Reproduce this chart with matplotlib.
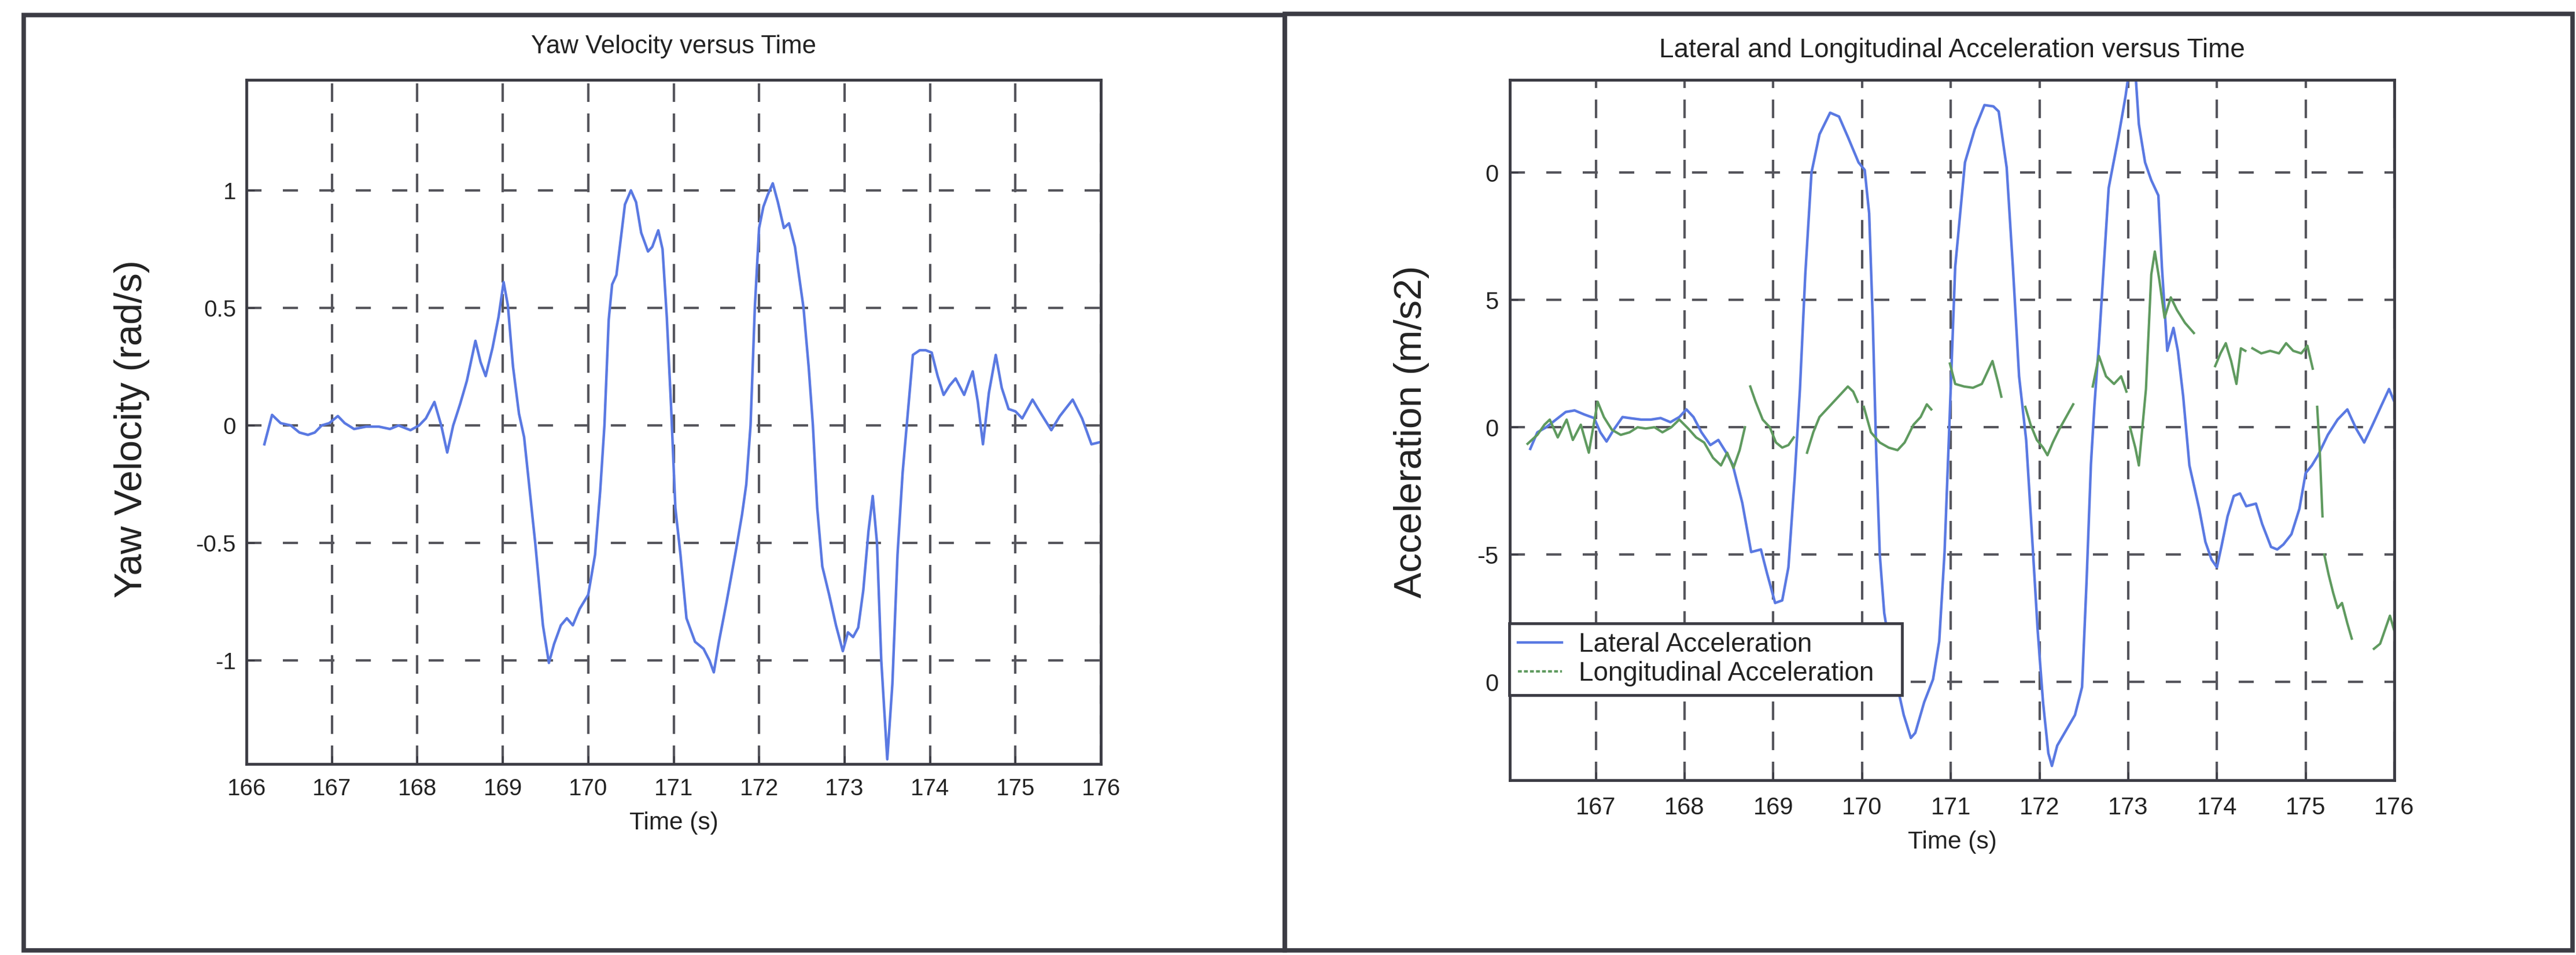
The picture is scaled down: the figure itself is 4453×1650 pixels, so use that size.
import numpy as np
import matplotlib
matplotlib.use("Agg")
import matplotlib.pyplot as plt
from matplotlib.lines import Line2D
from matplotlib.patches import Rectangle

plt.rcParams['font.family'] = ['Liberation Sans', 'DejaVu Sans']

# ---------------- data ----------------
yaw_t = [166.21, 166.30, 166.40, 166.52, 166.62, 166.72, 166.80, 166.88, 166.97, 167.07,
         167.15, 167.26, 167.40, 167.55, 167.68, 167.78, 167.92, 168.02, 168.10, 168.20,
         168.28, 168.35, 168.42, 168.50, 168.58, 168.68, 168.74, 168.80, 168.88, 168.95,
         169.01, 169.06, 169.12, 169.19, 169.25, 169.38, 169.47, 169.54, 169.60, 169.68,
         169.75, 169.82, 169.90, 170.00, 170.08, 170.14, 170.19, 170.24, 170.28, 170.33,
         170.38, 170.43, 170.50, 170.56, 170.62, 170.70, 170.75, 170.82, 170.87, 170.92,
         170.97, 171.02, 171.08, 171.15, 171.25, 171.35, 171.42, 171.47, 171.53, 171.62,
         171.72, 171.80, 171.85, 171.90, 171.95, 172.00, 172.05, 172.10, 172.16, 172.22,
         172.29, 172.35, 172.42, 172.52, 172.58, 172.63, 172.68, 172.74, 172.82, 172.90,
         172.98, 173.04, 173.10, 173.16, 173.22, 173.28, 173.33, 173.38, 173.43, 173.50,
         173.56, 173.62, 173.68, 173.74, 173.80, 173.88, 173.95, 174.02, 174.09, 174.16,
         174.23, 174.30, 174.40, 174.50, 174.56, 174.62, 174.69, 174.77, 174.84, 174.92,
         175.00, 175.08, 175.20, 175.30, 175.42, 175.52, 175.67, 175.78, 175.89, 176.00]
yaw_v = [-0.08, 0.045, 0.01, 0.0, -0.03, -0.04, -0.03, 0.0, 0.01, 0.04,
         0.01, -0.015, -0.005, -0.005, -0.015, 0.0, -0.02, 0.0, 0.03, 0.10,
         0.0, -0.115, 0.0, 0.09, 0.19, 0.36, 0.27, 0.21, 0.33, 0.46,
         0.61, 0.51, 0.25, 0.05, -0.05, -0.5, -0.85, -1.01, -0.93, -0.85,
         -0.82, -0.85, -0.78, -0.72, -0.55, -0.28, 0.0, 0.45, 0.6, 0.64,
         0.79, 0.94, 1.0, 0.95, 0.82, 0.74, 0.76, 0.83, 0.75, 0.46,
         0.08, -0.35, -0.55, -0.82, -0.92, -0.95, -1.0, -1.05, -0.92, -0.75,
         -0.55, -0.38, -0.25, 0.0, 0.5, 0.84, 0.93, 0.98, 1.03, 0.95,
         0.84, 0.86, 0.76, 0.5, 0.25, 0.0, -0.35, -0.6, -0.72, -0.85,
         -0.96, -0.88, -0.9, -0.86, -0.7, -0.45, -0.3, -0.5, -1.0, -1.42,
         -1.1, -0.55, -0.2, 0.05, 0.3, 0.32, 0.32, 0.31, 0.21, 0.13,
         0.17, 0.2, 0.13, 0.23, 0.1, -0.08, 0.14, 0.3, 0.16, 0.07,
         0.06, 0.03, 0.11, 0.05, -0.02, 0.04, 0.11, 0.03, -0.08, -0.07]

lat_t = [166.26, 166.34, 166.44, 166.55, 166.66, 166.76, 166.87, 166.98, 167.05, 167.12,
         167.20, 167.30, 167.40, 167.51, 167.62, 167.73, 167.84, 167.94, 168.02, 168.10,
         168.19, 168.29, 168.38, 168.47, 168.54, 168.65, 168.75, 168.86, 168.93, 169.02,
         169.10, 169.17, 169.24, 169.30, 169.36, 169.43, 169.52, 169.64, 169.74, 169.84,
         169.96, 170.03, 170.08, 170.12, 170.16, 170.20, 170.25, 170.32, 170.40, 170.47,
         170.55, 170.60, 170.70, 170.80, 170.87, 170.93, 170.98, 171.05, 171.16, 171.27,
         171.38, 171.48, 171.54, 171.63, 171.70, 171.77, 171.85, 171.92, 171.98, 172.04,
         172.10, 172.14, 172.20, 172.30, 172.40, 172.48, 172.53, 172.58, 172.62, 172.67,
         172.78, 172.89, 172.97, 173.03, 173.08, 173.12, 173.19, 173.26, 173.34, 173.38,
         173.44, 173.51, 173.56, 173.62, 173.69, 173.80, 173.87, 173.94, 174.00, 174.05,
         174.12, 174.19, 174.26, 174.33, 174.44, 174.51, 174.61, 174.68, 174.75, 174.84,
         174.93, 175.00, 175.07, 175.14, 175.25, 175.36, 175.47, 175.57, 175.66, 175.75,
         175.86, 175.94, 176.00]
lat_v = [-0.85, -0.2, 0.0, 0.3, 0.6, 0.66, 0.5, 0.36, -0.2, -0.56,
         -0.1, 0.4, 0.35, 0.3, 0.3, 0.36, 0.2, 0.4, 0.7, 0.4,
         -0.2, -0.7, -0.5, -1.0, -1.45, -2.97, -4.9, -4.8, -5.75, -6.9,
         -6.8, -5.5, -2.0, 1.5, 6.0, 10.0, 11.5, 12.35, 12.2, 11.4,
         10.4, 10.1, 8.4, 4.3, -1.0, -5.0, -7.3, -8.8, -10.2, -11.3,
         -12.2, -12.0, -10.8, -9.9, -8.4, -4.9, -0.3, 6.3, 10.4, 11.7,
         12.65, 12.6, 12.4, 10.2, 6.3, 2.0, -0.5, -4.5, -8.0, -10.8,
         -12.8, -13.3, -12.5, -11.9, -11.3, -10.2, -6.1, -1.45, 0.9, 3.3,
         9.4, 11.4, 13.0, 14.5, 14.0, 11.9, 10.4, 9.7, 9.1, 6.3,
         3.0, 3.9, 3.0, 1.2, -1.5, -3.2, -4.5, -5.2, -5.5, -4.7,
         -3.5, -2.7, -2.6, -3.1, -3.0, -3.8, -4.7, -4.8, -4.6, -4.2,
         -3.2, -1.8, -1.5, -1.1, -0.3, 0.3, 0.7, -0.06, -0.6, 0.06,
         0.9, 1.5, 1.0]

# longitudinal acceleration: None marks a break in the recorded trace
lon_t = [166.23, 166.34, 166.42, 166.48, 166.57, 166.67, 166.74, 166.83, 166.92, 167.02,
         167.09, 167.18, 167.28, 167.38, 167.47, 167.56, 167.66, 167.75, 167.85, 167.94,
         168.04, 168.13, 168.22, 168.32, 168.41, 168.48, 168.55, 168.62, 168.68, 168.71,
         168.74, 168.80, 168.88, 168.96, 169.03, 169.10, 169.17, 169.23, 169.30,
         169.38, 169.45, 169.52, 169.60, 169.68, 169.76, 169.84, 169.90, 169.95, 169.98,
         170.02, 170.10, 170.20, 170.30, 170.40, 170.48, 170.58, 170.66, 170.73, 170.78, 170.90,
         170.99, 171.05, 171.15, 171.25, 171.35, 171.47, 171.53, 171.57, 171.70,
         171.84, 171.90, 171.97, 172.04, 172.09, 172.15, 172.22, 172.30, 172.38, 172.50,
         172.60, 172.67, 172.75, 172.84, 172.92, 172.98, 173.00,
         173.02, 173.08, 173.12, 173.16, 173.20, 173.22, 173.26, 173.30, 173.35, 173.41,
         173.48, 173.55, 173.64, 173.74, 173.86,
         173.98, 174.04, 174.10, 174.16, 174.22, 174.27, 174.32, 174.36,
         174.40, 174.50, 174.60, 174.70, 174.78, 174.86, 174.95, 175.02, 175.08, 175.10,
         175.13, 175.16, 175.19, 175.20,
         175.21, 175.26, 175.31, 175.36, 175.41, 175.47, 175.52, 175.65,
         175.77, 175.84, 175.90, 175.95, 176.00]
lon_v = [-0.65, -0.3, 0.1, 0.3, -0.4, 0.3, -0.5, 0.1, -1.0, 1.0,
         0.4, -0.1, -0.3, -0.2, 0.0, -0.05, 0.0, -0.2, 0.0, 0.3,
         -0.05, -0.4, -0.6, -1.2, -1.5, -1.0, -1.6, -0.9, 0.0, None,
         1.6, 1.0, 0.3, 0.0, -0.6, -0.8, -0.7, -0.4, None,
         -1.0, -0.2, 0.4, 0.7, 1.0, 1.3, 1.6, 1.4, 1.0, None,
         0.8, -0.2, -0.6, -0.8, -0.9, -0.6, 0.1, 0.4, 0.9, 0.7, None,
         2.5, 1.7, 1.6, 1.55, 1.7, 2.6, 1.8, 1.2, None,
         0.8, 0.1, -0.5, -0.8, -1.1, -0.6, -0.1, 0.4, 0.9, None,
         1.6, 2.8, 2.0, 1.7, 2.0, 1.4, None,
         0.0, -0.8, -1.5, 0.0, 1.5, 3.0, 6.0, 6.9, 5.8, 4.3,
         5.1, 4.6, 4.1, 3.7, None,
         2.4, 2.9, 3.3, 2.6, 1.7, 3.1, 3.0, None,
         3.1, 2.9, 3.0, 2.9, 3.3, 3.0, 2.9, 3.2, 2.3, None,
         0.8, -1.0, -3.5, None,
         -5.0, -5.8, -6.5, -7.1, -6.9, -7.7, -8.3, None,
         -8.7, -8.5, -7.9, -7.4, -8.0]

yaw_yticks = [-1, -0.5, 0, 0.5, 1]
yaw_yticklabels = ['-1', '-0.5', '0', '0.5', '1']
time_ticks_left = list(range(166, 177))
acc_yticks = [-10, -5, 0, 5, 10]
acc_yticklabels = ['0', '-5', '0', '5', '0']   # as printed in the scan
time_ticks_right = list(range(167, 177))

BLUE = '#5a79e2'
GREEN = '#5f9a5f'
GRID = '#55555c'
TXT = '#222222'
FRAME = '#3c3c44'

W, H = 4453, 1650
fig = plt.figure(figsize=(W / 100, H / 100), dpi=100, facecolor='white')


def fr(x0, y0, x1, y1):
    return [x0 / W, 1 - y1 / H, (x1 - x0) / W, (y1 - y0) / H]


# panel frames
fig.add_artist(Rectangle((41 / W, 1 - 1642 / H), (2221 - 41) / W, (1642 - 26) / H,
                         transform=fig.transFigure, fill=False, lw=5.5, ec=FRAME))
fig.add_artist(Rectangle((2221 / W, 1 - 1642 / H), (4447 - 2221) / W, (1642 - 24) / H,
                         transform=fig.transFigure, fill=False, lw=5.5, ec=FRAME))

ax1 = fig.add_axes(fr(426, 138, 1903, 1320))
ax2 = fig.add_axes(fr(2610, 138, 4139, 1348))

glw = 3.0
vdash = (0, (32 / 1.389 / glw, 20 / 1.389 / glw))
hdash = (0, (26 / 1.389 / glw, 37 / 1.389 / glw))

for ax in (ax1, ax2):
    ax.set_axisbelow(True)
    ax.xaxis.grid(True, color=GRID, lw=glw, linestyle=vdash)
    ax.yaxis.grid(True, color=GRID, lw=glw, linestyle=hdash)
    for s in ax.spines.values():
        s.set_linewidth(3.5)
        s.set_color(FRAME)
    ax.tick_params(direction='in', length=10, width=2, colors=FRAME, labelcolor=TXT)

# ---- left: yaw velocity ----
ax1.plot(yaw_t, yaw_v, color=BLUE, lw=3.2)
ax1.set_xlim(166, 176)
ax1.set_ylim(-1.44, 1.47)
ax1.set_xticks(time_ticks_left)
ax1.set_xticklabels([str(t) for t in time_ticks_left])
ax1.set_yticks(yaw_yticks)
ax1.set_yticklabels(yaw_yticklabels)
ax1.tick_params(axis='x', labelsize=29, pad=17)
ax1.tick_params(axis='y', labelsize=29, pad=13)
ax1.set_title('Yaw Velocity versus Time', fontsize=31.5, color=TXT, y=1.042, va='center')
ax1.set_xlabel('Time (s)', fontsize=30.5, color=TXT, va='center')
ax1.xaxis.set_label_coords(0.5, -0.0863)
ax1.set_ylabel('Yaw Velocity (rad/s)', fontsize=48, color=TXT, va='center')
ax1.yaxis.set_label_coords(-0.134, 0.49)

# ---- right: accelerations ----
lon_arr = np.array([np.nan if v is None else v for v in lon_v], dtype=float)
l1, = ax2.plot(lat_t, lat_v, color=BLUE, lw=3.2)
ax2.plot(lon_t, lon_arr, color=GREEN, lw=3.0)
ax2.set_xlim(166.03, 176.0)
ax2.set_ylim(-13.86, 13.64)
ax2.set_xticks(time_ticks_right)
ax2.set_xticklabels([str(t) for t in time_ticks_right])
ax2.set_yticks(acc_yticks)
ax2.set_yticklabels(acc_yticklabels)
ax2.tick_params(axis='x', labelsize=30, pad=20)
ax2.tick_params(axis='y', labelsize=30, pad=14)
ax2.set_title('Lateral and Longitudinal Acceleration versus Time', fontsize=33, color=TXT,
              y=1.0355, va='center')
ax2.set_xlabel('Time (s)', fontsize=30.5, color=TXT, va='center')
ax2.xaxis.set_label_coords(0.5, -0.0884)
ax2.set_ylabel('Acceleration (m/s2)', fontsize=48, color=TXT, va='center')
ax2.yaxis.set_label_coords(-0.111, 0.498)

h_lon = Line2D([], [], color=GREEN, lw=3.0, linestyle=(0, (1.6, 0.9)))
leg = ax2.legend([l1, h_lon], ['Lateral Acceleration', 'Longitudinal Acceleration'],
                 loc='upper left', bbox_to_anchor=(-0.0007, 0.1207, 0.4441, 0.1033),
                 mode='expand', borderaxespad=0, fontsize=33, fancybox=False,
                 framealpha=1, edgecolor=FRAME, borderpad=0.32, labelspacing=0.14,
                 handlelength=1.66, handletextpad=0.63)
leg.get_frame().set_linewidth(3.5)
for t in leg.get_texts():
    t.set_color(TXT)

fig.savefig('out.png', dpi=100, facecolor='white')
